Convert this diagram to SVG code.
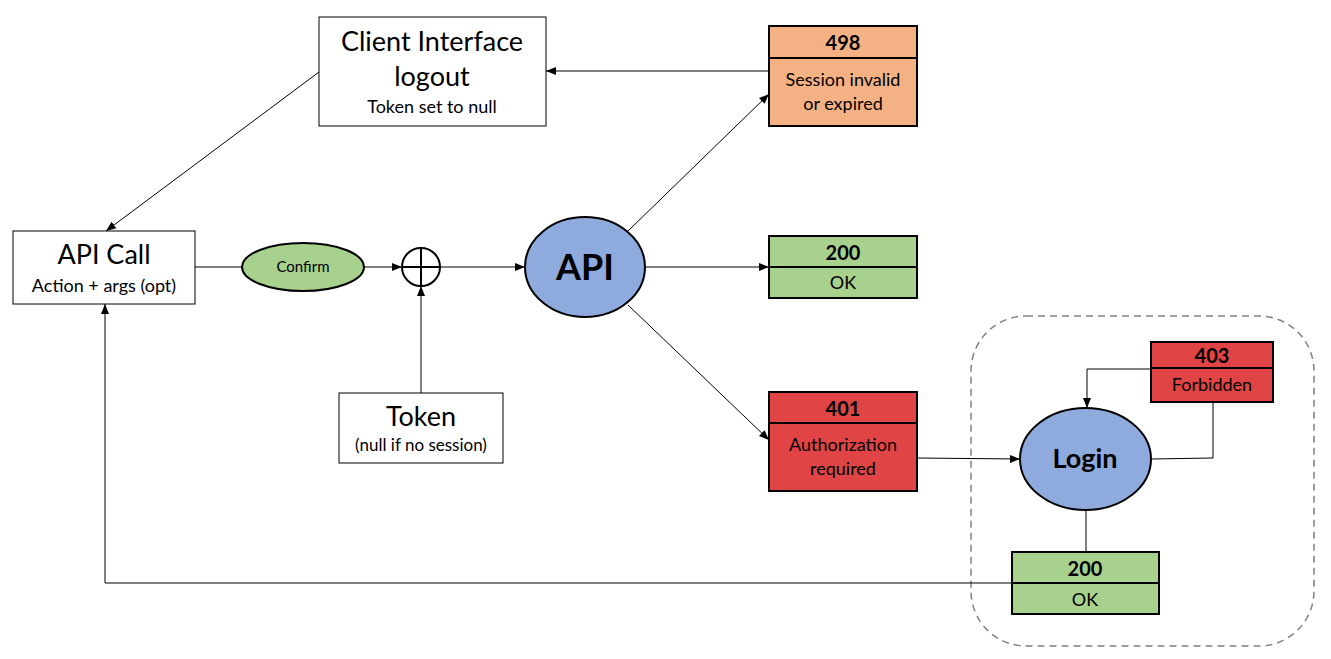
<svg xmlns="http://www.w3.org/2000/svg" width="1331" height="659" viewBox="0 0 1331 659">
<style>
text{font-family:Lato,"Liberation Sans",sans-serif;fill:#000;text-anchor:middle}
.box{fill:#fff;stroke:#000;stroke-width:1}
.st{stroke:#000;stroke-width:2}
.or{fill:#F4B183}
.gr{fill:#A9D18E}
.rd{fill:#E04444}
.bl{fill:#8FAADC;stroke:#000;stroke-width:2}
.c{fill:none;stroke:#000;stroke-width:1}
.b{font-weight:bold}
</style>
<defs>
<marker id="ah" viewBox="0 0 10 10" refX="10" refY="5" markerWidth="10" markerHeight="10" markerUnits="userSpaceOnUse" orient="auto">
<path d="M0,1 L10,5 L0,9 Z" fill="#000"/>
</marker>
</defs>
<rect x="971" y="316" width="343" height="330" rx="55" fill="none" stroke="#808080" stroke-width="1.5" stroke-dasharray="7,5"/>
<g id="connectors">
<line class="c" x1="769" y1="71" x2="546" y2="71" marker-end="url(#ah)"/>
<line class="c" x1="319" y1="72" x2="106" y2="231" marker-end="url(#ah)"/>
<line class="c" x1="195" y1="267" x2="242" y2="267"/>
<line class="c" x1="364" y1="267" x2="402" y2="267" marker-end="url(#ah)"/>
<line class="c" x1="440" y1="267" x2="525" y2="267" marker-end="url(#ah)"/>
<line class="c" x1="421" y1="393" x2="421" y2="286" marker-end="url(#ah)"/>
<line class="c" x1="628" y1="231" x2="769" y2="94" marker-end="url(#ah)"/>
<line class="c" x1="645" y1="267" x2="769" y2="267" marker-end="url(#ah)"/>
<line class="c" x1="628" y1="305" x2="769" y2="440" marker-end="url(#ah)"/>
<line class="c" x1="917" y1="458" x2="1020" y2="459" marker-end="url(#ah)"/>
<polyline class="c" points="1151,459 1213,458 1213,402"/>
<polyline class="c" points="1151,369 1087,369 1087,408" marker-end="url(#ah)"/>
<line class="c" x1="1086" y1="510" x2="1086" y2="552"/>
<polyline class="c" points="1012,583 105,583 105,304" marker-end="url(#ah)"/>
</g>
<g id="client-interface">
<rect class="box" x="319" y="17" width="227" height="109"/>
<text x="432" y="51" font-size="27">Client Interface</text>
<text x="432" y="86" font-size="27">logout</text>
<text x="432" y="113" font-size="18">Token set to null</text>
</g>
<g id="api-call">
<rect class="box" x="13" y="231" width="182" height="73"/>
<text x="104" y="264" font-size="27">API Call</text>
<text x="104" y="292" font-size="18">Action + args (opt)</text>
</g>
<g id="confirm">
<ellipse cx="303" cy="267" rx="61" ry="24" class="gr" stroke="#000" stroke-width="2"/>
<text x="303" y="272" font-size="15">Confirm</text>
</g>
<g id="combine">
<circle cx="421" cy="267" r="19" fill="#fff" stroke="#000" stroke-width="2"/>
<line x1="402" y1="267" x2="440" y2="267" stroke="#000" stroke-width="2"/>
<line x1="421" y1="248" x2="421" y2="286" stroke="#000" stroke-width="2"/>
</g>
<g id="token">
<rect class="box" x="339" y="393" width="164" height="70"/>
<text x="421" y="426" font-size="27">Token</text>
<text x="421" y="451" font-size="17">(null if no session)</text>
</g>
<g id="api">
<ellipse cx="585" cy="267" rx="60" ry="50" class="bl"/>
<text x="585" y="280" font-size="36" class="b">API</text>
</g>
<g id="r498">
<rect x="769" y="26" width="148" height="100" class="or st"/>
<line class="st" x1="769" y1="58" x2="917" y2="58"/>
<text x="843" y="50" font-size="20" class="b">498</text>
<text x="843" y="86" font-size="18">Session invalid</text>
<text x="843" y="110" font-size="18">or expired</text>
</g>
<g id="r200">
<rect x="769" y="236" width="148" height="62" class="gr st"/>
<line class="st" x1="769" y1="267" x2="917" y2="267"/>
<text x="843" y="260" font-size="20" class="b">200</text>
<text x="843" y="289" font-size="18">OK</text>
</g>
<g id="r401">
<rect x="769" y="392" width="148" height="99" class="rd st"/>
<line class="st" x1="769" y1="423" x2="917" y2="423"/>
<text x="843" y="416" font-size="20" class="b">401</text>
<text x="843" y="451" font-size="18">Authorization</text>
<text x="843" y="475" font-size="18">required</text>
</g>
<g id="login">
<ellipse cx="1085.5" cy="459" rx="65.5" ry="51" class="bl"/>
<text x="1085" y="468" font-size="27" class="b">Login</text>
</g>
<g id="r403">
<rect x="1151" y="342" width="122" height="60" class="rd st"/>
<line class="st" x1="1151" y1="368" x2="1273" y2="368"/>
<text x="1212" y="363" font-size="20" class="b">403</text>
<text x="1212" y="391" font-size="18">Forbidden</text>
</g>
<g id="login-200">
<rect x="1012" y="552" width="147" height="62" class="gr st"/>
<line class="st" x1="1012" y1="583" x2="1159" y2="583"/>
<text x="1085" y="576" font-size="20" class="b">200</text>
<text x="1085" y="606" font-size="18">OK</text>
</g>
</svg>
